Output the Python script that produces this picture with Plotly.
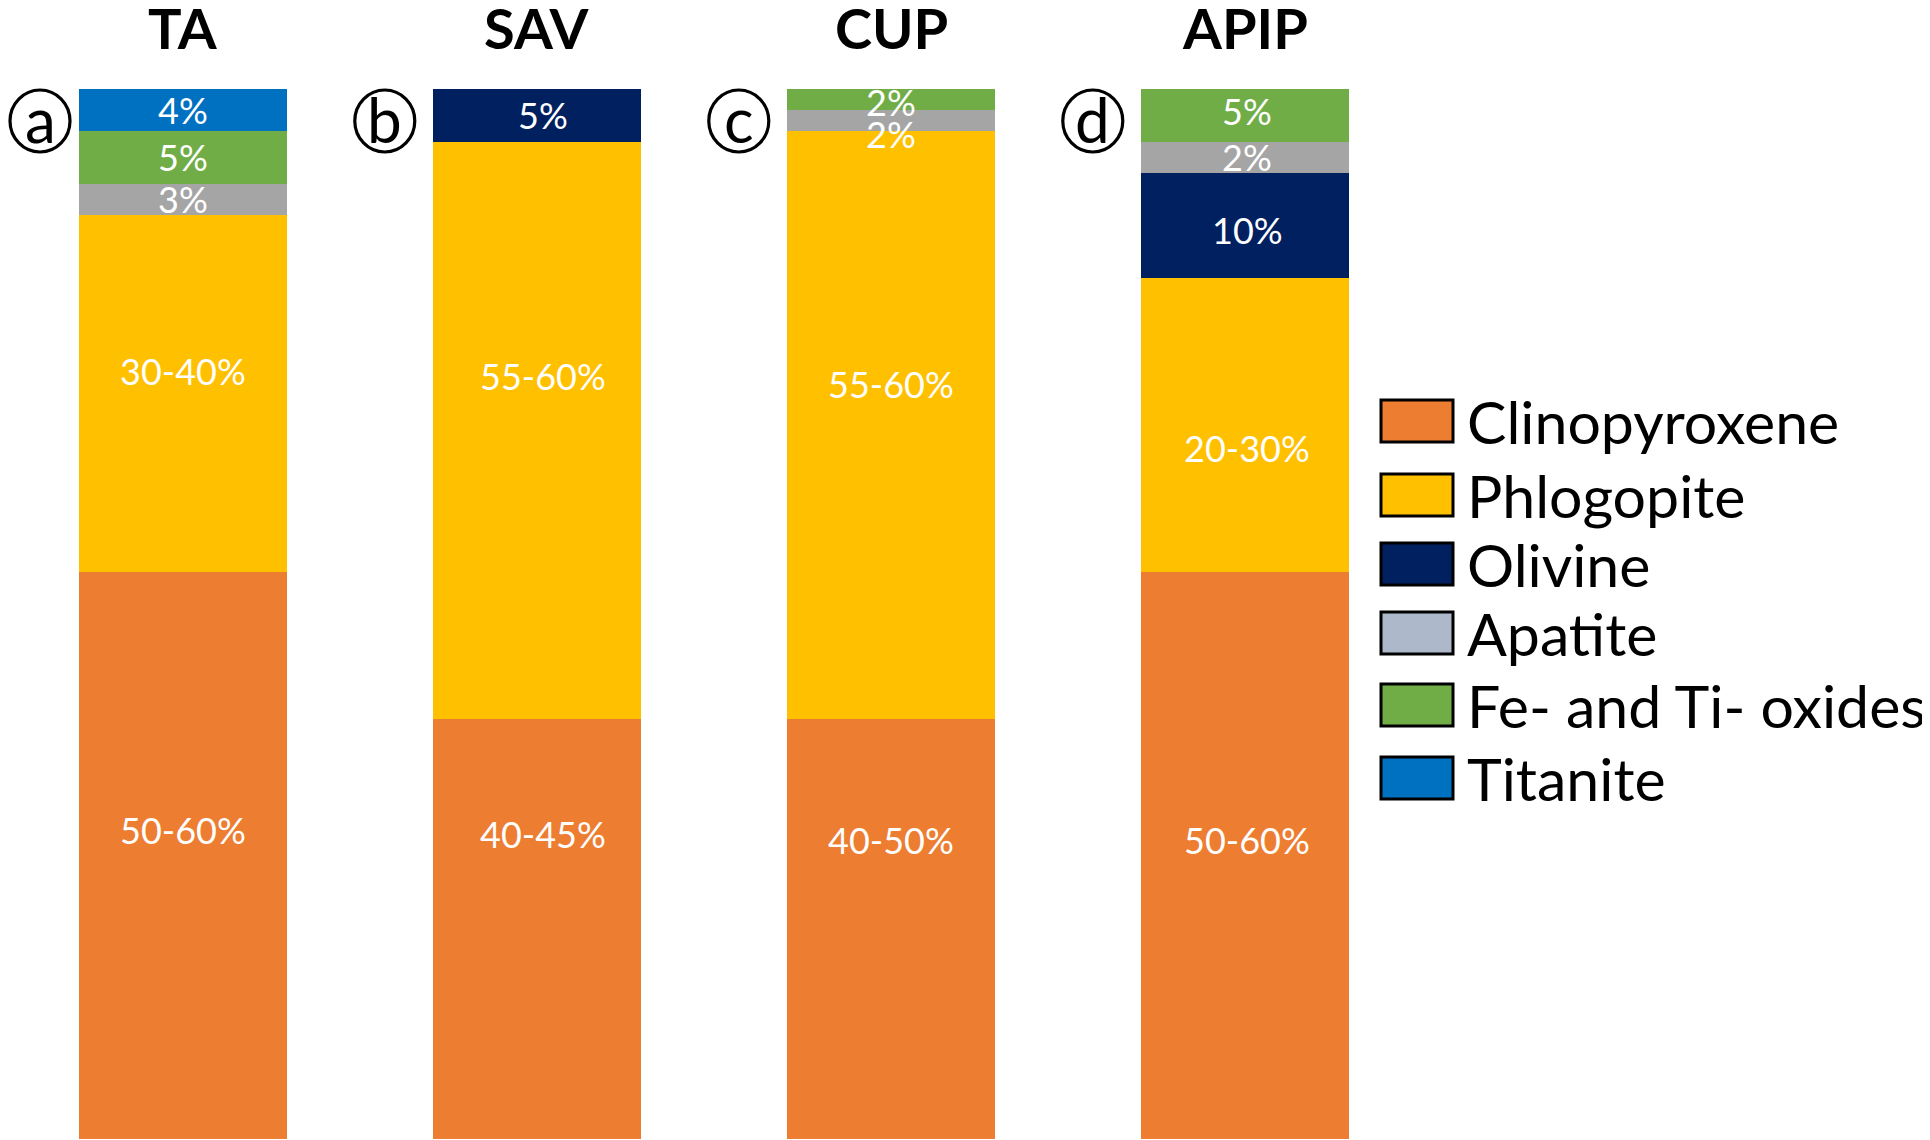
import plotly.graph_objects as go

# ---------------- data ----------------
samples = ["TA", "SAV", "CUP", "APIP"]
panel_letters = ["a", "b", "c", "d"]

minerals = ["Clinopyroxene", "Phlogopite", "Olivine", "Apatite",
            "Fe- and Ti- oxides", "Titanite"]

clinopyroxene = [54, 40, 40, 54]
phlogopite = [34, 55, 56, 28]
olivine = [0, 5, 0, 10]
apatite = [3, 0, 2, 3]
fe_ti_oxides = [5, 0, 2, 5]
titanite = [4, 0, 0, 0]

clinopyroxene_labels = ["50-60%", "40-45%", "40-50%", "50-60%"]
phlogopite_labels = ["30-40%", "55-60%", "55-60%", "20-30%"]
olivine_labels = ["", "5%", "", "10%"]
apatite_labels = ["3%", "", "2%", "2%"]
fe_ti_oxides_labels = ["5%", "", "2%", "5%"]
titanite_labels = ["4%", "", "", ""]

series_values = [clinopyroxene, phlogopite, olivine, apatite, fe_ti_oxides, titanite]
series_labels = [clinopyroxene_labels, phlogopite_labels, olivine_labels,
                 apatite_labels, fe_ti_oxides_labels, titanite_labels]

# ---------------- styles ----------------
bar_colors = ["#ED7D31", "#FFC000", "#002060", "#A5A5A5", "#70AD47", "#0070C0"]
legend_colors = ["#ED7D31", "#FFC000", "#002060", "#ADB9CA", "#70AD47", "#0070C0"]

# manual nudges (px, + = up) of the data labels, as placed in the original figure
label_yshift = [
    [26, 95, 89, 16],     # Clinopyroxene
    [23, 54, 41, -23],    # Phlogopite
    [0, 0, 0, -4],        # Olivine
    [0, 0, -13, 0],       # Apatite
    [0, 0, -2, 4],        # Fe- and Ti- oxides
    [0, 0, 0, 0],         # Titanite
]
label_xshift = [0, 6, 0, 2]

# ---------------- layout constants (reference px) ----------------
OFF = 8                          # page body margin
W, H = 1930 - OFF, 1140 - OFF
TOP, BOTTOM = 89 - OFF, 1139 - OFF
X0_PX, STEP_PX = 183 - OFF, 354
FONT = "Lato"
CIRCLE_R = 30

xpos = list(range(len(samples)))

fig = go.Figure()
for name, vals, col in zip(minerals, series_values, bar_colors):
    fig.add_trace(go.Bar(
        x=xpos, y=[v if v else None for v in vals], name=name,
        textposition="none",
        marker=dict(color=col, line=dict(width=0)),
        width=0.59, hoverinfo="skip", showlegend=False,
    ))


def px_x(p):
    return (p - OFF) / W


def px_y(p):
    return (BOTTOM - (p - OFF)) / (BOTTOM - TOP)


annotations = []
shapes = []

# segment labels, centred on each stacked segment
base = [0] * len(samples)
for vals, labs, shifts in zip(series_values, series_labels, label_yshift):
    for j, (v, lab, sh) in enumerate(zip(vals, labs, shifts)):
        if v and lab:
            annotations.append(dict(
                x=j, xref="x", y=base[j] + v / 2, yref="y", text=lab,
                showarrow=False, xanchor="center", yanchor="middle",
                yshift=sh, xshift=label_xshift[j],
                font=dict(family=FONT, size=36, color="white")))
        base[j] += v

# sample titles
for i, s in enumerate(samples):
    annotations.append(dict(
        x=i, xref="x", y=px_y(27), yref="paper", text=f"<b>{s}</b>",
        showarrow=False, xanchor="center", yanchor="middle",
        font=dict(family=FONT, size=56, color="black")))

# circled panel letters (kept fully on the page)
for i, letter in enumerate(panel_letters):
    cx_px = max(X0_PX + (i - 0.43) * STEP_PX, CIRCLE_R + 2)
    cx = (cx_px - X0_PX) / STEP_PX
    shapes.append(dict(
        type="circle", xref="x", yref="paper",
        xsizemode="pixel", ysizemode="pixel",
        xanchor=cx, yanchor=px_y(121),
        x0=-CIRCLE_R, x1=CIRCLE_R, y0=-CIRCLE_R - 1, y1=CIRCLE_R + 1,
        line=dict(color="black", width=3.2), fillcolor="white"))
    annotations.append(dict(
        x=cx, xref="x", y=px_y(119), yref="paper", text=letter,
        showarrow=False, xanchor="center", yanchor="middle",
        font=dict(family=FONT, size=62, color="black")))

# custom legend
legend_box_tops = [400, 474, 543, 612, 684, 757]
box_h = 42
for name, col, top in zip(minerals, legend_colors, legend_box_tops):
    shapes.append(dict(
        type="rect", xref="paper", yref="paper",
        x0=px_x(1381), x1=px_x(1453), y0=px_y(top + box_h), y1=px_y(top),
        line=dict(color="black", width=3), fillcolor=col))
    annotations.append(dict(
        x=px_x(1465), xref="paper", y=px_y(top + box_h / 2), yref="paper",
        text=name, showarrow=False, xanchor="left", yanchor="middle",
        font=dict(family=FONT, size=59, color="black")))

fig.update_layout(
    width=W, height=H,
    margin=dict(l=0, r=0, t=TOP, b=H - BOTTOM, pad=0),
    barmode="stack",
    plot_bgcolor="white", paper_bgcolor="white",
    showlegend=False,
    xaxis=dict(range=[-X0_PX / STEP_PX, (W - X0_PX) / STEP_PX], visible=False, fixedrange=True),
    yaxis=dict(range=[0, 100], visible=False, fixedrange=True),
    annotations=annotations, shapes=shapes,
    font=dict(family=FONT),
)

fig.write_html("out.html", config={"displayModeBar": False})
